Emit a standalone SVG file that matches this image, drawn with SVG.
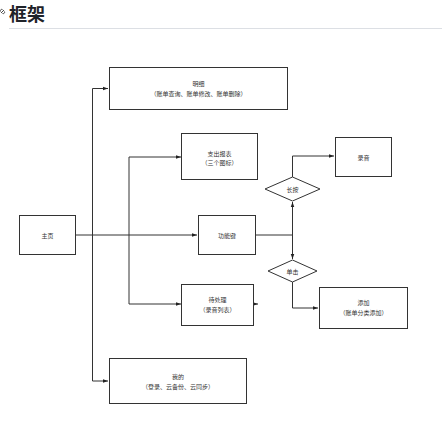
<svg xmlns="http://www.w3.org/2000/svg" width="442" height="421" viewBox="0 0 442 421">
<style>
.box{fill:#fff;stroke:#333;stroke-width:1}
.t{font-family:"Noto Sans CJK SC","Liberation Sans",sans-serif;font-size:6px;fill:#333;text-anchor:middle;dominant-baseline:central}
.c{fill:none;stroke:#333;stroke-width:1}
</style>
<defs>
<marker id="a" viewBox="0 0 10 10" refX="10" refY="5" markerWidth="5" markerHeight="5" orient="auto" markerUnits="userSpaceOnUse">
<path d="M0,1.5 L10,5 L0,8.5 Z" fill="#222"/>
</marker>
</defs>
<rect width="442" height="421" fill="#fff"/>
<g id="title">
<path d="M1,13 l3,-3 M0.5,11.5 a1.5,1.5 0 0 1 2,-2 M4.5,11.5 a1.5,1.5 0 0 1 -2,2" fill="none" stroke="#333" stroke-width="0.9"/>
<text x="9" y="21" font-family="Noto Sans CJK SC,sans-serif" font-size="18" font-weight="bold" fill="#1f2329">框架</text>
<line x1="9" y1="28.5" x2="442" y2="28.5" stroke="#dcdfe4" stroke-width="1"/>
</g>
<g id="connectors">
<path class="c" d="M75,235 H197" marker-end="url(#a)"/>
<path class="c" d="M92.5,381 V88.5 H108" marker-end="url(#a)"/>
<path class="c" d="M92.5,235 V381 H108" marker-end="url(#a)"/>
<path class="c" d="M129,235 V157 H181" marker-end="url(#a)"/>
<path class="c" d="M129,235 V304 H181" marker-end="url(#a)"/>
<path class="c" d="M255,235 H292.5"/>
<path class="c" d="M292.5,235 V202" marker-end="url(#a)"/>
<path class="c" d="M292.5,235 V259" marker-end="url(#a)"/>
<path class="c" d="M292.5,177 V156 H334" marker-end="url(#a)"/>
<path class="c" d="M292.5,282 V308 H318" marker-end="url(#a)"/>
<path class="c" d="M253,304 H258" marker-end="url(#a)"/>
</g>
<g id="home">
<rect class="box" x="19.5" y="215.5" width="56" height="39"/>
<text class="t" x="47.5" y="235">主页</text>
</g>
<g id="detail">
<rect class="box" x="109.5" y="67.5" width="178" height="42"/>
<text class="t" x="198.5" y="83">明细</text>
<text class="t" x="198.5" y="93.5">（账单查询、账单修改、账单删除）</text>
</g>
<g id="report">
<rect class="box" x="181.5" y="133.5" width="76" height="46"/>
<text class="t" x="219.5" y="153">支出报表</text>
<text class="t" x="219.5" y="162">（三个图标）</text>
</g>
<g id="func">
<rect class="box" x="198.5" y="215.5" width="57" height="39"/>
<text class="t" x="227" y="235">功能键</text>
</g>
<g id="pending">
<rect class="box" x="181.5" y="284.5" width="72" height="41"/>
<text class="t" x="217.5" y="299">待处理</text>
<text class="t" x="217.5" y="309">（录音列表）</text>
</g>
<g id="mine">
<rect class="box" x="109.5" y="358.5" width="137" height="45"/>
<text class="t" x="178" y="376">我的</text>
<text class="t" x="178" y="386">（登录、云备份、云同步）</text>
</g>
<g id="longpress">
<polygon class="box" points="265,189 292.5,177 320,189 292.5,201"/>
<text class="t" x="292.5" y="189">长按</text>
</g>
<g id="click">
<polygon class="box" points="268,271 292.5,260 317,271 292.5,282"/>
<text class="t" x="292.5" y="271">单击</text>
</g>
<g id="record">
<rect class="box" x="335.5" y="137.5" width="56" height="39"/>
<text class="t" x="363.5" y="157">录音</text>
</g>
<g id="add">
<rect class="box" x="319.5" y="287.5" width="88" height="41"/>
<text class="t" x="363.5" y="302.5">添加</text>
<text class="t" x="363.5" y="312.5">（账单分类添加）</text>
</g>
</svg>
